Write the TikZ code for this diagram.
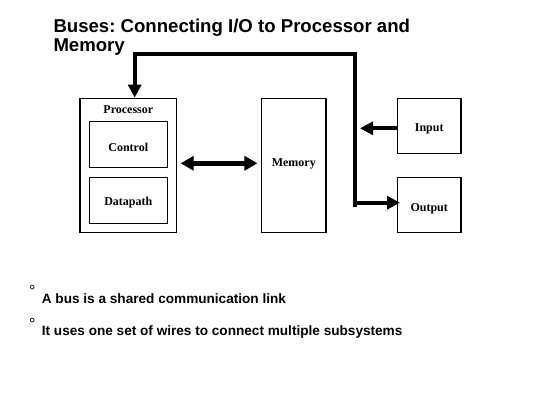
\documentclass[tikz,border=0pt]{standalone}
\usepackage{fontspec}
\setmainfont{Liberation Serif}
\newfontfamily\arialfont{Liberation Sans}
\usetikzlibrary{arrows.meta}
\frenchspacing
\tikzset{
    box/.style={draw, line width=1.4pt, inner sep=0pt},
    boxlabel/.style={font=\bfseries\fontsize{12}{14}\selectfont, inner sep=0pt},
    bus/.style={line width=4pt, -{Triangle[length=13pt,width=13pt]}},
    heading/.style={font=\arialfont\bfseries\fontsize{18.6}{19.5}\selectfont, inner sep=0pt},
    point/.style={font=\arialfont\bfseries\fontsize{13.6}{15}\selectfont, inner sep=0pt},
    degree/.style={font=\arialfont\fontsize{16}{17}\selectfont, inner sep=0pt, anchor=base west}
}

\begin{document}
\begin{tikzpicture}[x=1pt,y=-1pt]
	\useasboundingbox (0,0) rectangle (560,420);
	\node (t1) [heading, anchor=base west] at (53.3,32.7) {Buses: Connecting I/O to Processor and};
	\node (t2) [heading, anchor=base west] at (53.3,51.7) {Memory};

	\node (proc) [box, minimum width=96.7pt, minimum height=134.4pt] at (128.3,165.5) {};
	\node (ctrl) [box, minimum width=78pt, minimum height=45.6pt] at (128.3,144.5) {};
	\node (dpath) [box, minimum width=78pt, minimum height=46pt] at (128.3,200.3) {};
	\node (mem) [box, minimum width=64.3pt, minimum height=134.4pt] at (293.8,165.5) {};
	\node (inp) [box, minimum width=63.7pt, minimum height=55pt] at (429.2,125.8) {};
	\node (outp) [box, minimum width=63.7pt, minimum height=55pt] at (429.2,205.2) {};

	\node (plabel) [boxlabel, anchor=base] at (128.3,113.5) {Processor};
	\node (clabel) [boxlabel] at ([yshift=-3pt]ctrl.center) {Control};
	\node (dlabel) [boxlabel] at ([yshift=-2pt]dpath.center) {Datapath};
	\node (mlabel) [boxlabel] at ([yshift=1.5pt]mem.center) {Memory};
	\node (ilabel) [boxlabel] at ([yshift=-3.5pt]inp.center) {Input};
	\node (olabel) [boxlabel] at ([yshift=-3.5pt]outp.center) {Output};

	\coordinate (bot) at (354.7,206.7);
	\coordinate (topr) at (354.7,54);
	\coordinate (topl) at (134.7,54);
	\coordinate (intip) at (360,128.3);
	\coordinate (outstart) at (354.7,202.7);

	\draw [bus] (bot) -- (topr) -- (topl) -- (proc.north -| topl);
	\draw [bus] (inp.west |- intip) -- (intip);
	\draw [bus] (outstart) -- (400,202.7);
	\draw [bus, line width=4.5pt, {Triangle[length=13pt,width=14pt]}-{Triangle[length=13pt,width=14pt]}]
		(proc.east |- 0,163.3) ++(3.3,0) -- ([xshift=-3.5pt]mem.west |- 0,163.3);

	\node (d1) [degree] at (29,296.8) {°};
	\node (b1) [point, anchor=base west] at (41.7,303.3) {A bus is a shared communication link};
	\node (d2) [degree] at (29,329.2) {°};
	\node (b2) [point, anchor=base west] at (41.7,335.7) {It uses one set of wires to connect multiple subsystems};
\end{tikzpicture}
\end{document}
